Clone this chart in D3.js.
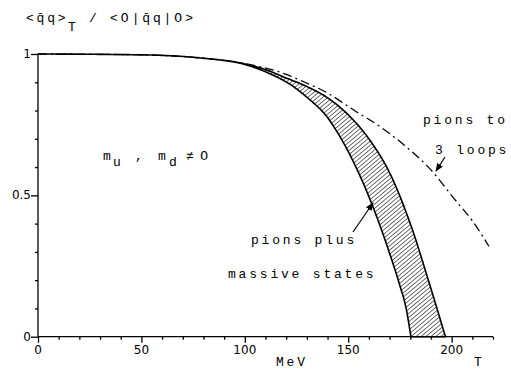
<!DOCTYPE html>
<meta charset="utf-8">
<style>
    body { margin: 0; background: #fff; }
    text { font-family: "Liberation Mono", "DejaVu Sans Mono", monospace; fill: #000; }
    .axis path, .axis line { stroke: #000; stroke-width: 1.3px; }
    .tl { font-size: 12px; font-family: "DejaVu Sans", sans-serif; }
    .lbl { font-size: 13px; letter-spacing: 2.8px; }
    .z { font-family: "DejaVu Sans", sans-serif; }
</style>
<body>
<script src="https://d3js.org/d3.v7.min.js"></script>
<script>
    // chart values
    var loopsT   = [0, 50, 80, 100, 120, 129, 140, 153, 164, 177, 190, 201, 210, 218];
    var loopsVal = [1, 0.997, 0.985, 0.966, 0.928, 0.9, 0.862, 0.80, 0.75, 0.678, 0.59, 0.49, 0.41, 0.32];

    // band "pions plus massive states": lower (left) and upper (right) edge
    var lowT   = [0, 50, 80, 100, 110, 124, 130, 140, 145, 150, 155, 160, 165, 170, 175, 178, 180.3];
    var lowVal = [1, 0.997, 0.985, 0.963, 0.937, 0.882, 0.847, 0.775, 0.72, 0.655, 0.58, 0.495, 0.40, 0.295, 0.18, 0.10, 0];
    var highT   = [0, 50, 80, 100, 110, 120, 130, 140, 150, 160, 170, 180, 190, 197];
    var highVal = [1, 0.997, 0.985, 0.965, 0.945, 0.915, 0.885, 0.845, 0.785, 0.70, 0.58, 0.40, 0.17, 0];

    var xTicks = [0, 50, 100, 150, 200];
    var yTicks = [0, 0.5, 1];

    var width = 511, height = 370;
    var margin = {left: 38, right: 18, top: 54, bottom: 33.3};

    var x = d3.scaleLinear().domain([0, 220]).range([margin.left, width - margin.right]);
    var y = d3.scaleLinear().domain([0, 1]).range([height - margin.bottom, margin.top]);

    var svg = d3.select("body").append("svg")
        .attr("width", width)
        .attr("height", height);

    var defs = svg.append("defs");

    // hatch pattern for the band
    defs.append("pattern")
        .attr("id", "hatch")
        .attr("patternUnits", "userSpaceOnUse")
        .attr("width", 3.2).attr("height", 3.2)
        .attr("patternTransform", "rotate(50)")
      .append("line")
        .attr("x1", 0).attr("y1", 0).attr("x2", 0).attr("y2", 3.2)
        .attr("stroke", "#000").attr("stroke-width", 1.1);

    defs.append("marker")
        .attr("id", "arr")
        .attr("viewBox", "0 0 10 10")
        .attr("refX", 9).attr("refY", 5)
        .attr("markerWidth", 7).attr("markerHeight", 7)
        .attr("orient", "auto")
      .append("path").attr("d", "M0,1L10,5L0,9Z").attr("fill", "#000");

    // x axis
    var xAxis = svg.append("g")
        .attr("class", "axis")
        .attr("transform", "translate(0," + y(0) + ")")
        .call(d3.axisBottom(x).tickValues(d3.range(0, 230, 10)).tickSize(3).tickFormat(""));
    xAxis.select(".domain").attr("d", "M" + x(0) + ",0H" + x(220));
    xAxis.selectAll(".tick line").attr("y2", function(d) { return d % 50 === 0 ? 6 : 3; });
    svg.append("g")
        .selectAll("text").data(xTicks).join("text")
        .attr("class", "tl")
        .attr("x", function(d) { return x(d); })
        .attr("y", y(0) + 17)
        .attr("text-anchor", "middle")
        .text(function(d) { return d; });

    // y axis
    var yAxis = svg.append("g")
        .attr("class", "axis")
        .attr("transform", "translate(" + x(0) + ",0)")
        .call(d3.axisLeft(y).tickValues(d3.range(0, 1.01, 0.1)).tickSize(3).tickFormat(""));
    yAxis.select(".domain").attr("d", "M0," + y(0) + "V" + y(1));
    yAxis.selectAll(".tick line").attr("x2", function(d, i) { return i % 5 === 0 ? -7 : -3; });
    svg.append("g")
        .selectAll("text").data(yTicks).join("text")
        .attr("class", "tl")
        .attr("x", x(0) - 7)
        .attr("y", function(d) { return y(d) + 4; })
        .attr("text-anchor", "end")
        .text(function(d) { return d; });

    // band: sample both smooth edges and close them into one hatched shape
    var smooth = d3.line().curve(d3.curveMonotoneX);
    function sample(pts) {
        var p = svg.append("path").attr("d", smooth(pts)).node();
        var L = p.getTotalLength(), out = [];
        for (var i = 0; i <= 300; i++) {
            var q = p.getPointAtLength(L * i / 300);
            out.push([q.x, q.y]);
        }
        p.remove();
        return out;
    }
    var lowS = sample(lowT.map(function(t, i) { return [x(t), y(lowVal[i])]; }));
    var highS = sample(highT.map(function(t, i) { return [x(t), y(highVal[i])]; }));
    var ring = lowS.concat(highS.reverse());
    svg.append("path")
        .attr("d", "M" + ring.join("L") + "Z")
        .attr("fill", "url(#hatch)")
        .attr("stroke", "#000")
        .attr("stroke-width", 1.6)
        .attr("stroke-linejoin", "round");

    // pions to 3 loops
    svg.append("path")
        .datum(loopsT.map(function(t, i) { return [x(t), y(loopsVal[i])]; }))
        .attr("d", smooth)
        .attr("fill", "none")
        .attr("stroke", "#000")
        .attr("stroke-width", 1.3)
        .attr("stroke-dasharray", "9,4,2,4");

    // title
    svg.append("text").attr("class", "lbl").attr("x", 26).attr("y", 22).text("<q\u0304q>");
    svg.append("text").attr("class", "lbl").attr("x", 68).attr("y", 31).text("T");
    svg.append("text").attr("class", "lbl").attr("x", 89).attr("y", 22).text("/");
    var t2 = svg.append("text").attr("class", "lbl").attr("x", 110).attr("y", 22);
    t2.append("tspan").text("<");
    t2.append("tspan").attr("class", "z").text("0");
    t2.append("tspan").text("|q\u0304q|");
    t2.append("tspan").attr("class", "z").text("0");
    t2.append("tspan").text(">");

    // m_u, m_d != 0
    svg.append("text").attr("class", "lbl").attr("x", 103).attr("y", 160).text("m");
    svg.append("text").attr("class", "lbl").attr("x", 113).attr("y", 166).text("u");
    svg.append("text").attr("class", "lbl").attr("x", 135).attr("y", 160).text(",");
    svg.append("text").attr("class", "lbl").attr("x", 158).attr("y", 160).text("m");
    svg.append("text").attr("class", "lbl").attr("x", 169).attr("y", 166).text("d");
    svg.append("text").attr("class", "lbl").attr("x", 186).attr("y", 160).text("\u2260");
    svg.append("text").attr("class", "lbl z").attr("x", 200).attr("y", 160).text("0");

    // annotations
    svg.append("text").attr("class", "lbl").attr("x", 423).attr("y", 124).text("pions to");
    svg.append("text").attr("class", "lbl").attr("x", 435).attr("y", 154).text("3 loops");
    svg.append("text").attr("class", "lbl").attr("x", 251).attr("y", 244).text("pions plus");
    svg.append("text").attr("class", "lbl").attr("x", 228).attr("y", 278).text("massive states");

    svg.append("line")
        .attr("x1", 445).attr("y1", 157).attr("x2", 436).attr("y2", 171)
        .attr("stroke", "#000").attr("stroke-width", 1.2).attr("marker-end", "url(#arr)");
    svg.append("line")
        .attr("x1", 353).attr("y1", 232).attr("x2", 373).attr("y2", 203)
        .attr("stroke", "#000").attr("stroke-width", 1.2).attr("marker-end", "url(#arr)");

    // axis names
    svg.append("text").attr("class", "lbl").attr("x", 276).attr("y", 366).text("MeV");
    svg.append("text").attr("class", "lbl").attr("x", 474).attr("y", 366).text("T");
</script>
</body>
